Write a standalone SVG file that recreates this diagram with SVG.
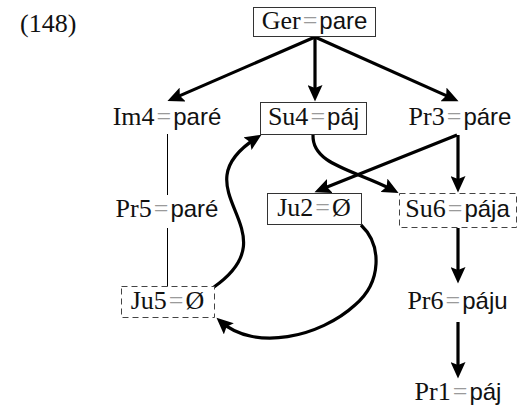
<svg xmlns="http://www.w3.org/2000/svg" width="524" height="411" viewBox="0 0 524 411">
<defs>
<style>
.t{font-family:"Liberation Serif","DejaVu Serif",serif;font-size:26px;fill:#111;text-anchor:middle}
.s{font-family:"Liberation Sans","DejaVu Sans",sans-serif;font-size:24px}
.eq{fill:#9a9a9a}
.box{fill:#fff;stroke:#333;stroke-width:1}
.dbox{fill:#fff;stroke:#444;stroke-width:1;stroke-dasharray:6,4}
.a{fill:none;stroke:#000;stroke-width:3.2;marker-end:url(#ah)}
.thin{fill:none;stroke:#000;stroke-width:1}
</style>
<marker id="ah" markerUnits="userSpaceOnUse" markerWidth="17" markerHeight="15" refX="11" refY="7.5" orient="auto">
<path d="M0,0 L16.5,7.5 L0,15 L3,7.5 z" fill="#000"/>
</marker>
</defs>
<text x="20" y="32" style="font-family:'Liberation Serif','DejaVu Serif',serif;font-size:26px;fill:#111">(148)</text>
<g id="connectors">
<line class="thin" x1="167.5" y1="134" x2="167.5" y2="287"/>
<line class="a" x1="315" y1="37" x2="172.5" y2="98.9"/>
<line class="a" x1="315" y1="37" x2="315" y2="96"/>
<line class="a" x1="315" y1="37" x2="453.5" y2="98.9"/>
<line class="a" x1="457" y1="135" x2="319.6" y2="190.1"/>
<line class="a" x1="458" y1="135" x2="458" y2="187"/>
<line class="a" x1="458" y1="228" x2="458" y2="278"/>
<line class="a" x1="458" y1="322" x2="458" y2="373"/>
<path class="a" d="M313,135 C312,165 355,170 393.7,190.4"/>
<path class="a" d="M214,287 C295,230 175,190 256.8,137.7"/>
<path class="a" d="M361,225 C382,245 382,282 355,305 C320,337 255,352 220.6,321.5"/>
</g>
<g id="ger"><rect class="box" x="253.5" y="7.5" width="122" height="29"/><text class="t" x="314.5" y="29">Ger<tspan class="eq" dx="2">=</tspan><tspan class="s" dx="2">pare</tspan></text></g>
<g id="im4"><text class="t" x="167" y="125">Im4<tspan class="eq" dx="2">=</tspan><tspan class="s" dx="2">paré</tspan></text></g>
<g id="su4"><rect class="box" x="260.5" y="102.5" width="106" height="32"/><text class="t" x="313.5" y="125">Su4<tspan class="eq" dx="2">=</tspan><tspan class="s" dx="2">páj</tspan></text></g>
<g id="pr3"><text class="t" x="460" y="125">Pr3<tspan class="eq" dx="2">=</tspan><tspan class="s" dx="2">páre</tspan></text></g>
<g id="pr5"><rect x="108" y="195" width="118" height="33" fill="#fff"/><text class="t" x="167" y="217">Pr5<tspan class="eq" dx="2">=</tspan><tspan class="s" dx="2">paré</tspan></text></g>
<g id="ju2"><rect class="box" x="267.5" y="193.5" width="94" height="31"/><text class="t" x="314" y="216">Ju2<tspan class="eq" dx="2">=</tspan><tspan dx="2">Ø</tspan></text></g>
<g id="su6"><rect class="dbox" x="399.5" y="193.5" width="117" height="34"/><text class="t" x="457.5" y="217">Su6<tspan class="eq" dx="2">=</tspan><tspan class="s" dx="2">pája</tspan></text></g>
<g id="ju5"><rect class="dbox" x="121.5" y="286.5" width="93" height="31"/><text class="t" x="167.5" y="309">Ju5<tspan class="eq" dx="2">=</tspan><tspan dx="2">Ø</tspan></text></g>
<g id="pr6"><text class="t" x="457.5" y="309">Pr6<tspan class="eq" dx="2">=</tspan><tspan class="s" dx="2">páju</tspan></text></g>
<g id="pr1"><text class="t" x="458" y="400">Pr1<tspan class="eq" dx="2">=</tspan><tspan class="s" dx="2">páj</tspan></text></g>
</svg>
